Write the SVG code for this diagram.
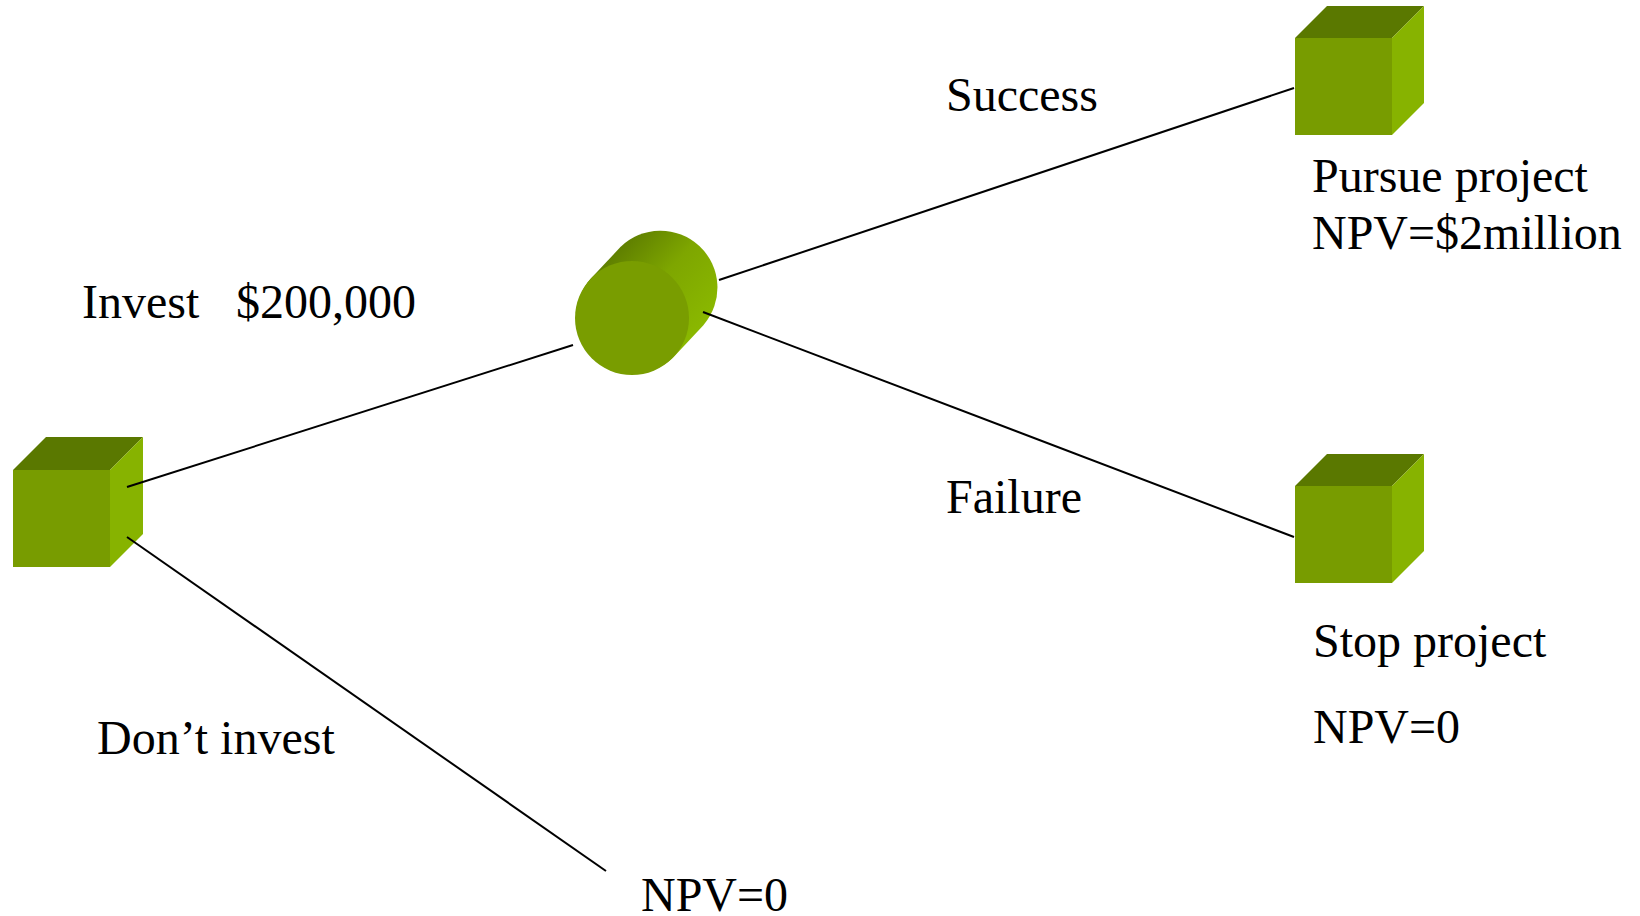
<svg xmlns="http://www.w3.org/2000/svg" width="1640" height="916" viewBox="0 0 1640 916">
<style>
.t{font-family:"Liberation Serif","Times New Roman",serif;font-size:48px;fill:#000}
.front{fill:#789c00}
.top{fill:#5a7800}
.side{fill:#87b300}
.ln{stroke:#000;stroke-width:2;fill:none}
</style>
<defs>
<linearGradient id="body" gradientUnits="userSpaceOnUse" x1="605" y1="263" x2="689" y2="341">
<stop offset="0" stop-color="#5f7f00"/>
<stop offset="0.45" stop-color="#7ea600"/>
<stop offset="1" stop-color="#8ab800"/>
</linearGradient>
</defs>
<rect width="1640" height="916" fill="#fff"/>
<g id="decision1">
<polygon class="front" points="13,470 110,470 110,567 13,567"/>
<polygon class="top" points="13,470 46,437 143,437 110,470"/>
<polygon class="side" points="110,470 143,437 143,534 110,567"/>
</g>
<g id="chance">
<path fill="url(#body)" d="M590.4,279.1 L620.4,247.1 A57,57 0 0 1 703.6,324.9 L673.6,356.9 A57,57 0 0 1 590.4,279.1 Z"/>
<circle cx="632" cy="318" r="57" fill="#799d00"/>
</g>
<g id="decision2">
<polygon class="front" points="1295,38 1392,38 1392,135 1295,135"/>
<polygon class="top" points="1295,38 1327,6 1424,6 1392,38"/>
<polygon class="side" points="1392,38 1424,6 1424,103 1392,135"/>
</g>
<g id="decision3">
<polygon class="front" points="1295,486 1392,486 1392,583 1295,583"/>
<polygon class="top" points="1295,486 1327,454 1424,454 1392,486"/>
<polygon class="side" points="1392,486 1424,454 1424,551 1392,583"/>
</g>
<g id="connectors">
<line class="ln" x1="127" y1="487" x2="573" y2="345"/>
<line class="ln" x1="127" y1="537" x2="606" y2="871"/>
<line class="ln" x1="719" y1="280" x2="1294" y2="88"/>
<line class="ln" x1="703" y1="312" x2="1294" y2="537"/>
</g>
<g id="labels">
<text class="t" x="82" y="318">Invest</text>
<text class="t" x="236" y="318">$200,000</text>
<text class="t" x="946" y="111">Success</text>
<text class="t" x="946" y="513">Failure</text>
<text class="t" x="1312" y="192">Pursue project</text>
<text class="t" x="1312" y="249">NPV=$2million</text>
<text class="t" x="1313" y="657">Stop project</text>
<text class="t" x="1313" y="743">NPV=0</text>
<text class="t" x="97" y="754">Don’t invest</text>
<text class="t" x="641" y="911">NPV=0</text>
</g>
</svg>
